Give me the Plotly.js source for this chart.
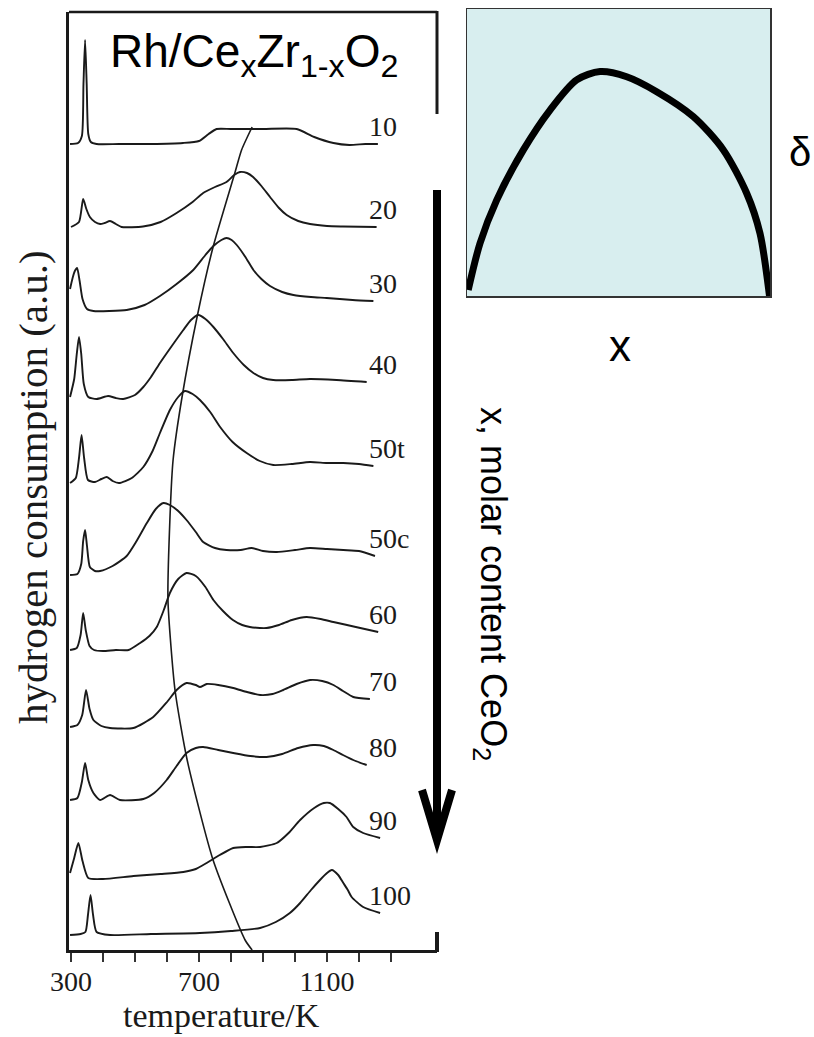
<!DOCTYPE html>
<html>
<head>
<meta charset="utf-8">
<script src="https://cdn.plot.ly/plotly-3.0.1.min.js"></script>
<style>html,body{margin:0;padding:0;background:#fff;}#chart{width:814px;height:1037px;}</style>
</head>
<body>
<div id="chart"></div>
<script>
// ---- Data (temperature in K, signal height in a.u.) ----
const curveLabels = ['10','20','30','40','50t','50c','60','70','80','90','100'];
const curveOffsets = [806, 723, 639, 551, 467, 374, 300, 223, 148, 77, 15];

const T10 = [297, 322, 334, 339, 344, 349, 354, 362, 380, 450, 550, 650, 700, 730, 755, 800, 900, 1005, 1060, 1120, 1170, 1220, 1259];
const H10 = [0, 1, 8, 60, 104, 60, 10, 2, 0, 0, 0, 1, 3, 10, 15, 15, 15, 15, 7, 1, -1, 0, 0];

const T20 = [300, 325, 338, 348, 359, 375, 391, 405, 422, 440, 458, 525, 580, 630, 680, 713, 750, 786, 810, 828, 850, 869, 895, 922, 950, 974, 1010, 1047, 1100, 1150, 1255];
const H20 = [0, 5, 28, 18, 10, 5, 3, 4, 6, 3, 0, 0.5, 5, 14, 25, 34, 40, 45, 52, 55, 54, 50, 41, 30, 19, 12, 6, 3, 1, 0.5, 0];

const T30 = [297, 305, 312, 319, 327, 336, 350, 370, 420, 474, 530, 578, 630, 682, 720, 745, 770, 786, 802, 818, 845, 870, 895, 922, 960, 995, 1050, 1099, 1180, 1245];
const H30 = [22, 33, 40, 43, 30, 12, 2, 0, 0, 1, 6, 15, 27, 41, 56, 65, 71, 73, 71, 66, 54, 41, 32, 25, 19, 16, 14, 13, 11, 10];

const T40 = [297, 310, 318, 325, 332, 340, 354, 380, 416, 440, 463, 500, 526, 550, 578, 615, 651, 675, 698, 720, 745, 775, 807, 840, 870, 900, 932, 990, 1047, 1130, 1224];
const H40 = [2, 20, 45, 62, 45, 15, 2, 0, 3, 1, 0, 4, 12, 22, 36, 53, 69, 79, 84, 80, 72, 60, 46, 34, 26, 21, 19, 19, 20, 19, 17];

const T50t = [297, 315, 325, 333, 341, 353, 375, 395, 412, 430, 450, 490, 526, 555, 578, 609, 635, 656, 680, 703, 735, 766, 805, 849, 890, 932, 990, 1047, 1100, 1151, 1200, 1245];
const H50t = [0, 5, 25, 48, 25, 3, 1, 4, 6, 2, 0, 5, 16, 32, 50, 73, 86, 92, 89, 83, 71, 56, 41, 30, 22, 18, 19, 21, 20, 20, 19, 17];

const T50c = [297, 320, 332, 338, 344, 350, 359, 375, 391, 430, 474, 505, 537, 565, 589, 609, 635, 661, 690, 713, 750, 786, 830, 864, 900, 943, 1000, 1047, 1100, 1151, 1200, 1250];
const H50c = [1, 2, 12, 35, 46, 30, 9, 5, 5, 10, 20, 35, 53, 67, 73, 71, 65, 56, 44, 34, 28, 26, 26, 28, 25, 24, 26, 28, 27, 26, 25, 20];

const T60 = [297, 318, 330, 338, 346, 358, 372, 400, 440, 480, 516, 545, 568, 590, 609, 635, 661, 690, 720, 745, 775, 806, 835, 859, 890, 911, 950, 990, 1036, 1080, 1120, 1190, 1260];
const H60 = [0, 2, 15, 37, 20, 4, 0, -1, 0, 0, 7, 14, 23, 40, 57, 71, 77, 74, 63, 50, 39, 30, 25, 23, 22, 22, 25, 30, 33, 31, 28, 23, 18];

const T70 = [297, 320, 335, 347, 358, 370, 395, 422, 495, 557, 600, 630, 661, 690, 703, 724, 760, 807, 850, 891, 930, 963, 1005, 1047, 1085, 1120, 1150, 1182, 1234];
const H70 = [0, 2, 12, 37, 18, 7, 1, -1, -1, 10, 25, 37, 44, 42, 40, 43, 42, 39, 35, 32, 33, 37, 43, 47, 46, 42, 36, 30, 28];

const T80 = [297, 320, 334, 344, 354, 370, 391, 422, 453, 526, 560, 599, 630, 661, 690, 713, 760, 807, 860, 911, 960, 1010, 1057, 1090, 1120, 1150, 1182, 1224];
const H80 = [2, 4, 20, 39, 22, 9, 2, 7, 2, 3, 9, 22, 36, 49, 54, 55, 52, 49, 46, 45, 48, 54, 57, 56, 52, 47, 42, 37];

const T90 = [297, 310, 323, 336, 354, 400, 495, 580, 651, 690, 724, 765, 807, 850, 891, 943, 980, 1016, 1060, 1090, 1109, 1135, 1161, 1182, 1213, 1266];
const H90 = [0, 15, 30, 12, -5, -6, -3, -1, 1, 4, 10, 18, 25, 26, 26, 30, 40, 53, 65, 70, 70, 64, 56, 46, 40, 35];

const T100 = [297, 330, 345, 353, 361, 369, 380, 422, 550, 703, 800, 891, 940, 984, 1016, 1050, 1078, 1100, 1115, 1135, 1151, 1165, 1177, 1213, 1266];
const H100 = [0, 1, 3, 20, 40, 20, 3, 0, 1, 2, 4, 7, 13, 22, 32, 45, 55, 62, 65, 60, 52, 45, 38, 28, 22];

// line joining the main reduction maxima
const peakLineT = [866, 833, 812, 744, 694, 647, 619, 609, 603, 625, 663, 744, 844, 866];
const peakLineY = [823, 800, 777, 703, 633, 553, 490, 430, 350, 260, 190, 90, 10, 0];

// inset: oxygen deficiency delta vs x
const insetX = [0.004, 0.043, 0.098, 0.186, 0.274, 0.362, 0.439, 0.527, 0.626, 0.747, 0.846, 0.923, 0.967, 1.0];
const insetDelta = [0.021, 0.184, 0.334, 0.509, 0.648, 0.753, 0.782, 0.764, 0.712, 0.625, 0.509, 0.358, 0.218, -0.014];

// x-axis ticks
const labelTicks = [300, 700, 1100];
const labelText = ['300', '700', '1100'];
const minorTicks = [400, 500, 600, 800, 900, 1000, 1200, 1300];

// ---- Layout helpers (pixel -> paper) ----
const W = 814, H = 1037;
const fx = p => p / W;
const fy = p => 1 - p / H;

const curveT = [T10, T20, T30, T40, T50t, T50c, T60, T70, T80, T90, T100];
const curveH = [H10, H20, H30, H40, H50t, H50c, H60, H70, H80, H90, H100];

const SERIF = '"Liberation Serif", "Times New Roman", Times, serif';
const SANS = 'Arial, "Liberation Sans", Helvetica, sans-serif';
const INK = '#1a1a1a';

const traces = [];
const annotations = [];
curveLabels.forEach((lab, i) => {
  const ys = curveH[i].map(h => h + curveOffsets[i]);
  traces.push({
    type: 'scatter', mode: 'lines', name: lab,
    x: curveT[i], y: ys, xaxis: 'x', yaxis: 'y',
    line: {color: INK, width: 1.9, shape: 'spline', smoothing: 0.6}
  });
  annotations.push({
    xref: 'x', yref: 'y', x: 1225, y: ys[ys.length - 1] + 18,
    xanchor: 'left', yanchor: 'middle', showarrow: false,
    text: lab, font: {family: SERIF, size: 28, color: INK}
  });
});
traces.push({
  type: 'scatter', mode: 'lines', name: 'peak maxima',
  x: peakLineT, y: peakLineY, xaxis: 'x', yaxis: 'y',
  line: {color: INK, width: 1.6, shape: 'spline', smoothing: 0.6}
});
traces.push({
  type: 'scatter', mode: 'lines', name: 'delta',
  x: insetX, y: insetDelta, xaxis: 'x2', yaxis: 'y2', cliponaxis: false,
  line: {color: '#000', width: 7, shape: 'spline', smoothing: 0.8}
});

annotations.push(
  {xref: 'paper', yref: 'paper', x: fx(222), y: fy(1015), showarrow: false,
   text: 'temperature/K', font: {family: SERIF, size: 34, color: INK}, xanchor: 'center', yanchor: 'middle'},
  {xref: 'paper', yref: 'paper', x: fx(33), y: fy(487), showarrow: false, textangle: -90,
   text: 'hydrogen consumption (a.u.)', font: {family: SERIF, size: 41, color: INK}, xanchor: 'center', yanchor: 'middle'},
  {xref: 'paper', yref: 'paper', x: fx(491), y: fy(584), showarrow: false, textangle: 90,
   text: 'x, molar content CeO<sub>2</sub>', font: {family: SANS, size: 36, color: '#000'}, xanchor: 'center', yanchor: 'middle'},
  {xref: 'paper', yref: 'paper', x: fx(620), y: fy(345), showarrow: false,
   text: 'x', font: {family: SANS, size: 44, color: '#000'}, xanchor: 'center', yanchor: 'middle'},
  {xref: 'paper', yref: 'paper', x: fx(800), y: fy(152), showarrow: false,
   text: 'δ', font: {family: SANS, size: 40, color: '#000'}, xanchor: 'center', yanchor: 'middle'}
);

const shapes = [
  // inset background
  {type: 'rect', xref: 'paper', yref: 'paper', x0: fx(467), x1: fx(770), y0: fy(296), y1: fy(9),
   fillcolor: '#d8eeef', line: {width: 0}, layer: 'below'},
  // top frame
  {type: 'line', xref: 'paper', yref: 'paper', x0: fx(69), x1: fx(437), y0: fy(12), y1: fy(12), line: {color: INK, width: 2.5}},
  // right frame pieces
  {type: 'line', xref: 'paper', yref: 'paper', x0: fx(437), x1: fx(437), y0: fy(11), y1: fy(114), line: {color: INK, width: 3}},
  {type: 'line', xref: 'paper', yref: 'paper', x0: fx(437), x1: fx(437), y0: fy(932), y1: fy(952), line: {color: INK, width: 4}},
  // big arrow
  {type: 'line', xref: 'paper', yref: 'paper', x0: fx(437), x1: fx(437), y0: fy(190), y1: fy(834), line: {color: '#000', width: 8}},
  {type: 'path', xref: 'paper', yref: 'paper',
   path: `M ${fx(422)} ${fy(790)} L ${fx(437)} ${fy(840)} L ${fx(452)} ${fy(790)}`, line: {color: '#000', width: 8}}
];

const layout = {
  width: W, height: H,
  margin: {l: 0, r: 0, t: 0, b: 0},
  paper_bgcolor: '#fff', plot_bgcolor: 'rgba(0,0,0,0)',
  showlegend: false, hovermode: false,
  title: {
    text: 'Rh/Ce<sub>x</sub>Zr<sub>1-x</sub>O<sub>2</sub>',
    font: {family: SANS, size: 46, color: '#000'},
    x: fx(110), xanchor: 'left', xref: 'paper',
    y: fy(51), yanchor: 'middle', yref: 'paper'
  },
  xaxis: {
    domain: [fx(69), fx(437)], range: [293.75, 1443.75],
    showgrid: false, zeroline: false, showline: true, linecolor: INK, linewidth: 3,
    ticks: 'outside', ticklen: 9, tickwidth: 2, tickcolor: '#333',
    tickmode: 'array', tickvals: labelTicks, ticktext: labelText, ticklabelstandoff: -5,
    minor: {tickmode: 'array', tickvals: minorTicks, ticks: 'outside', ticklen: 9, tickwidth: 2, tickcolor: '#333', showgrid: false},
    tickfont: {family: SERIF, size: 28, color: INK}, anchor: 'y'
  },
  yaxis: {
    domain: [fy(950), fy(12)], range: [0, 938],
    showgrid: false, zeroline: false, showline: true, linecolor: INK, linewidth: 3,
    ticks: '', showticklabels: false, anchor: 'x'
  },
  xaxis2: {
    domain: [fx(467), fx(770)], range: [0, 1], anchor: 'y2',
    showgrid: false, zeroline: false, showline: true, mirror: true, linecolor: '#333', linewidth: 1.5,
    ticks: '', showticklabels: false
  },
  yaxis2: {
    domain: [fy(296), fy(9)], range: [0, 1], anchor: 'x2',
    showgrid: false, zeroline: false, showline: true, mirror: true, linecolor: '#333', linewidth: 1.5,
    ticks: '', showticklabels: false
  },
  annotations: annotations,
  shapes: shapes
};

Plotly.newPlot('chart', traces, layout, {staticPlot: true, displayModeBar: false});
</script>
</body>
</html>
